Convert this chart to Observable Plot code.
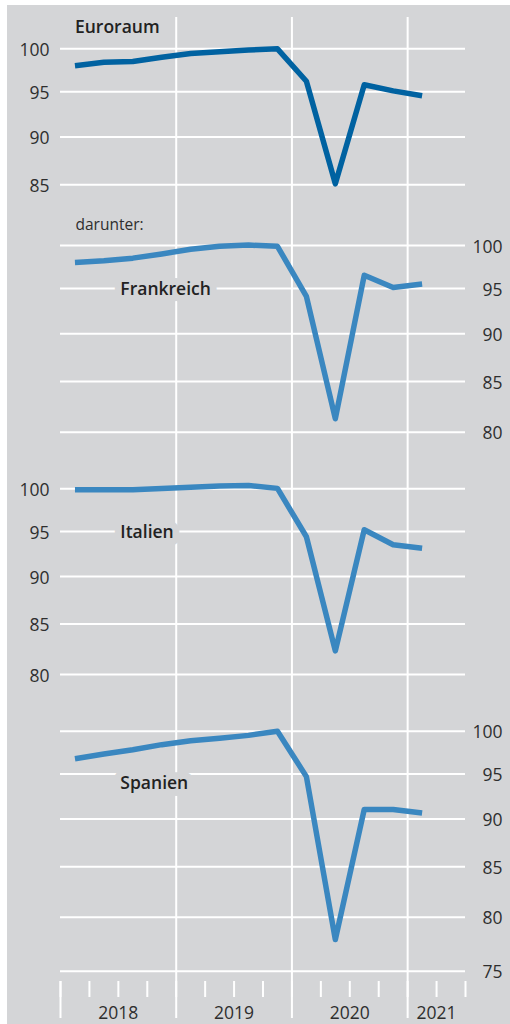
<!DOCTYPE html>
<html><head><meta charset="utf-8">
<script src="https://cdn.jsdelivr.net/npm/d3@7"></script>
<script src="https://cdn.jsdelivr.net/npm/@observablehq/plot@0.6"></script>
<style>
body{margin:0;background:#fff;}
#chart{position:absolute;left:7px;top:5px;width:503px;height:1019px;background:#d4d5d7;overflow:hidden;}
#chart svg{display:block;}
</style></head><body><div id="chart"></div>
<script>
// ---- data ----
const quarters = ["2018Q1","2018Q2","2018Q3","2018Q4","2019Q1","2019Q2","2019Q3","2019Q4","2020Q1","2020Q2","2020Q3","2020Q4","2021Q1"];
const euroraum   = [98.0, 98.4, 98.5, 99.0, 99.45, 99.65, 99.85, 100.0, 96.2, 85.1, 95.8, 95.1, 94.55];
const frankreich = [98.0, 98.2, 98.5, 99.0, 99.55, 99.9, 100.05, 99.9, 94.1, 81.3, 96.5, 95.1, 95.5];
const italien    = [99.9, 99.9, 99.9, 100.05, 100.2, 100.35, 100.4, 100.05, 94.4, 82.3, 95.2, 93.5, 93.1];
const spanien    = [96.75, 97.3, 97.8, 98.4, 98.85, 99.17, 99.5, 100.0, 94.7, 77.9, 91.05, 91.05, 90.65];
const seriesNames = ["Euroraum", "Frankreich", "Italien", "Spanien"];
const subLabel = "darunter:";
const yearLines = [2019, 2020, 2021];
const yearStarts = [2018, 2019, 2020, 2021];
const quarterTicks = [2018, 2018.25, 2018.5, 2018.75, 2019, 2019.25, 2019.5, 2019.75, 2020, 2020.25, 2020.5, 2020.75, 2021, 2021.25, 2021.5];
const yearLabelPos = [2018.5, 2019.5, 2020.5, 2021.25];
const yearLabels = ["2018", "2019", "2020", "2021"];
const ticksEuro = [85, 90, 95, 100];
const ticks80 = [80, 85, 90, 95, 100];
const ticks75 = [75, 80, 85, 90, 95, 100];

// ---- helpers ----
const qx = q => +q.slice(0, 4) + (+q.slice(5) - 0.5) / 4;
const rows = vals => quarters.map((q, i) => ({x: qx(q), v: vals[i]}));

const BG = "#d4d5d7";
const TXT = "#2e2e2e";
const W = 503;
const common = {
  width: W, marginLeft: 53, marginRight: 45,
  style: {fontFamily: "'Open Sans', sans-serif", fontSize: "17px", color: TXT, background: "transparent", overflow: "visible"}
};

const panels = [
  {name: seriesNames[0], values: euroraum, color: "#0062a1", ticks: ticksEuro, side: "left",
   height: 200, marginTop: 12, marginBottom: 0, domain: [85, 100], range: [179.3, 43.3]},
  {name: seriesNames[1], values: frankreich, color: "#3a87c0", ticks: ticks80, side: "right",
   height: 255, marginTop: 0, marginBottom: 0, domain: [80, 100], range: [226.7, 40], labelDy: 1},
  {name: seriesNames[2], values: italien, color: "#3a87c0", ticks: ticks80, side: "left",
   height: 240, marginTop: 0, marginBottom: 0, domain: [80, 100], range: [214, 28.3], labelDy: 1},
  {name: seriesNames[3], values: spanien, color: "#3a87c0", ticks: ticks75, side: "right",
   height: 324, marginTop: 0, marginBottom: 43, domain: [75, 100], range: [270.7, 30.7], labelDy: 9.5}
];

const chart = document.getElementById("chart");

panels.forEach((p, idx) => {
  const marks = [
    Plot.ruleY(p.ticks, {stroke: "white", strokeWidth: 2}),
    Plot.ruleX(yearLines, {stroke: "white", strokeWidth: 2}),
    Plot.text(p.ticks, {y: d => d, text: d => String(d), frameAnchor: p.side, textAnchor: "end",
      dx: p.side === "left" ? -11 : 37, dy: 1.5, fill: TXT, fontSize: 17.5}),
    Plot.line(rows(p.values), {x: "x", y: "v", stroke: p.color, strokeWidth: 5.5, strokeLinecap: "butt", strokeLinejoin: "round"})
  ];
  if (idx === 0) {
    marks.push(Plot.text([p.name], {x: qx(quarters[0]), frameAnchor: "top", textAnchor: "start", lineAnchor: "bottom",
      dy: 15.3, fontWeight: 600, fontSize: 17.5, fill: "#222"}));
  } else {
    marks.push(Plot.text([p.name], {x: 2018.5, y: 95, textAnchor: "start", lineAnchor: "middle", dx: 2, dy: p.labelDy,
      fontWeight: 600, fontSize: 17.5, fill: "#222", stroke: BG, strokeWidth: 14, strokeLinejoin: "round"}));
  }
  if (idx === 1) {
    marks.push(Plot.text([subLabel], {x: qx(quarters[0]), frameAnchor: "top", textAnchor: "start", lineAnchor: "bottom",
      dy: 24, dx: 0.5, fontSize: 15.5, fill: TXT}));
  }
  if (idx === 3) {
    marks.push(
      Plot.axisX({ticks: quarterTicks, tickSize: 16, tickFormat: () => "", stroke: "white", strokeWidth: 2, label: null}),
      Plot.axisX({ticks: yearStarts, tickSize: 37, tickFormat: () => "", stroke: "white", strokeWidth: 2, label: null}),
      Plot.axisX({ticks: yearLabelPos, tickSize: 0, tickPadding: 25, tickFormat: d => yearLabels[yearLabelPos.indexOf(d)], label: null, fill: TXT, fontSize: 17.5})
    );
  }
  const svg = Plot.plot({
    ...common,
    height: p.height, marginTop: p.marginTop, marginBottom: p.marginBottom,
    x: idx === 3 ? {domain: [2018, 2021.5]} : {domain: [2018, 2021.5], axis: null},
    y: {type: "log", domain: p.domain, range: p.range, axis: null},
    marks
  });
  chart.appendChild(svg);
});
</script>
</body></html>
